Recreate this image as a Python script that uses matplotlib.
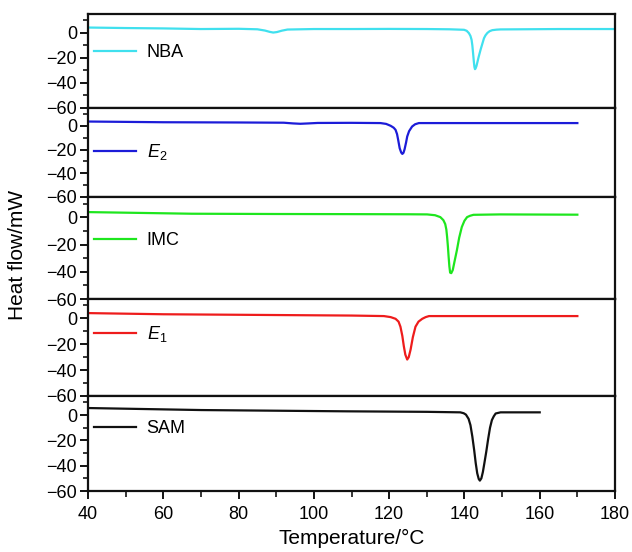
import matplotlib
matplotlib.use("Agg")
import matplotlib.pyplot as plt
from matplotlib.ticker import MultipleLocator

plt.rcParams['font.family'] = ['Liberation Sans', 'DejaVu Sans']
plt.rcParams['mathtext.fontset'] = 'custom'
plt.rcParams['mathtext.it'] = 'Liberation Sans:italic'
plt.rcParams['mathtext.rm'] = 'Liberation Sans'

# ---- data ----
nba_x = [40, 50, 60, 70, 80, 85, 87, 88.2, 89.2, 90.2, 91.5, 93, 100, 110, 120, 130, 136,
         138, 139.9, 140.6, 141.2, 141.6, 141.9, 142.1, 142.3, 142.5, 142.65, 142.8, 142.95,
         143.2, 143.4, 143.8, 144.3, 144.8, 145.2, 145.6, 146.1, 146.7, 147.4, 148.5, 149.6,
         155, 165, 180]
nba_y = [4.2, 3.8, 3.5, 3.0, 3.2, 2.8, 1.8, 0.8, 0.2, 0.6, 1.7, 2.6, 3.0, 3.0, 3.1, 3.0, 2.8,
         2.6, 2.4, 1.6, -0.3, -2.5, -5.6, -10, -16.3, -23, -27.2, -29, -28.5,
         -26.5, -24, -19, -13.4, -8.3, -4.3, -2.0, -0.1, 1.3, 2.1, 2.5, 2.7,
         2.8, 3.0, 3.0]

e2_x = [40, 60, 80, 92, 94.5, 96.4, 98.5, 101, 110, 117.7, 119.2, 120.4, 121.2, 121.7,
        122.1, 122.4, 122.8, 123.2, 123.5, 123.8, 124.1, 124.5, 124.8, 125.3, 126.1,
        126.9, 127.9, 131.9, 150, 170]
e2_y = [3.6, 3.0, 2.8, 2.6, 2.0, 1.7, 2.0, 2.4, 2.5, 2.3, 1.6, 0.0, -1.6, -3.4,
        -7.0, -11.9, -18.9, -22.5, -23.7, -22.8, -19.8, -14.0, -9.0, -4.5, -0.6,
        1.3, 2.3, 2.3, 2.3, 2.3]

imc_x = [40, 67.6, 90, 110, 125, 130.1, 132.2, 133.6, 134.4, 134.9, 135.2, 135.4, 135.6,
         135.8, 136.0, 136.2, 136.5, 136.9, 137.4, 138.0, 138.6, 139.3, 140.0, 140.7,
         141.5, 142.4, 149.5, 170]
imc_y = [3.9, 2.7, 2.5, 2.4, 2.3, 2.2, 1.6, 0.2, -2.0, -4.9, -9.0, -14.4, -21.0,
         -28.9, -36.0, -40.6, -41.0, -38.7, -32.0, -24.1, -15.0, -7.1, -2.5, 0.2,
         1.2, 1.9, 2.2, 2.0]

e1_x = [40, 60, 80, 100, 110, 118.6, 120.4, 121.7, 122.5, 123.0, 123.5, 123.9, 124.3,
        124.8, 125.2, 125.7, 126.3, 127.0, 127.8, 128.8, 129.7, 130.6, 140.8, 170]
e1_y = [4.1, 3.2, 2.8, 2.4, 2.2, 1.8, 1.0, -0.3, -2.5, -6.4, -13.5, -21.5, -28.0,
        -31.8, -30.0, -24.1, -14.5, -6.4, -2.5, -0.3, 1.0, 1.8, 1.8, 1.8]

sam_x = [40, 70.2, 108.8, 130, 138.9, 139.8, 140.4, 141.1, 141.6, 142.1, 142.6, 143.0,
         143.4, 143.8, 144.1, 144.5, 144.9, 145.3, 145.8, 146.3, 146.8, 147.3, 147.8,
         148.3, 149.6, 160]
sam_y = [5.5, 3.9, 2.9, 2.5, 2.1, 1.4, 0.3, -3, -8, -17, -28, -38,
         -46, -50.5, -51.8, -50, -45, -38, -29, -19, -10, -4, -1,
         1.2, 2.1, 2.1]

labels = ['NBA', r'$E_{\mathrm{2}}$', 'IMC', r'$E_{\mathrm{1}}$', 'SAM']
colors = ['#40e0ee', '#1c1cd8', '#1ee61e', '#ee1c1c', '#111111']
series_x = [nba_x, e2_x, imc_x, e1_x, sam_x]
series_y = [nba_y, e2_y, imc_y, e1_y, sam_y]
legend_y = [-16, -22, -17, -12, -11]

xticks = [40, 60, 80, 100, 120, 140, 160, 180]
yticks = [-60, -40, -20, 0]

# ---- layout ----
W, H = 632, 552
fig = plt.figure(figsize=(W / 100, H / 100), dpi=100)
left_px, right_px = 88, 615
bounds = [14, 108, 197, 299, 396, 491]

axes = []
for i in range(5):
    top, bot = bounds[i], bounds[i + 1]
    ax = fig.add_axes([left_px / W, 1 - bot / H, (right_px - left_px) / W, (bot - top) / H])
    axes.append(ax)

for i, ax in enumerate(axes):
    ax.plot(series_x[i], series_y[i], color=colors[i], lw=1.6, label=labels[i])
    ax.set_xlim(40, 180)
    ax.set_ylim(-60, 15)
    ax.set_yticks(yticks)
    ax.set_yticklabels(['\u221260', '\u221240', '\u221220', '0'])
    ax.yaxis.set_minor_locator(MultipleLocator(10))
    ax.tick_params(axis='y', which='major', direction='out', length=6, width=1.3,
                   labelsize=13, pad=2, right=False)
    ax.tick_params(axis='y', which='minor', direction='out', length=3.5, width=1.1, right=False)
    for sp in ax.spines.values():
        sp.set_linewidth(1.6)
        sp.set_color('#111111')
    if i < 4:
        ax.tick_params(axis='x', which='both', bottom=False, labelbottom=False, top=False)
    else:
        ax.set_xticks(xticks)
        ax.xaxis.set_minor_locator(MultipleLocator(10))
        ax.tick_params(axis='x', which='major', direction='out', length=6, width=1.3,
                       labelsize=13, pad=5, top=False)
        ax.tick_params(axis='x', which='minor', direction='out', length=4, width=1.1, top=False)
        ax.set_xlabel('Temperature/\u00b0C', fontsize=15, labelpad=4)
    # legend
    yfrac = (legend_y[i] + 60) / 75
    ax.legend(loc='center left', bbox_to_anchor=(0.012, yfrac), frameon=False,
              fontsize=13, handlelength=2.3, handletextpad=0.6,
              borderpad=0, borderaxespad=0)

fig.text(0.028, 1 - 255 / H, 'Heat flow/mW', rotation=90, fontsize=15,
         va='center', ha='center')

fig.savefig('out.png', dpi=100)
